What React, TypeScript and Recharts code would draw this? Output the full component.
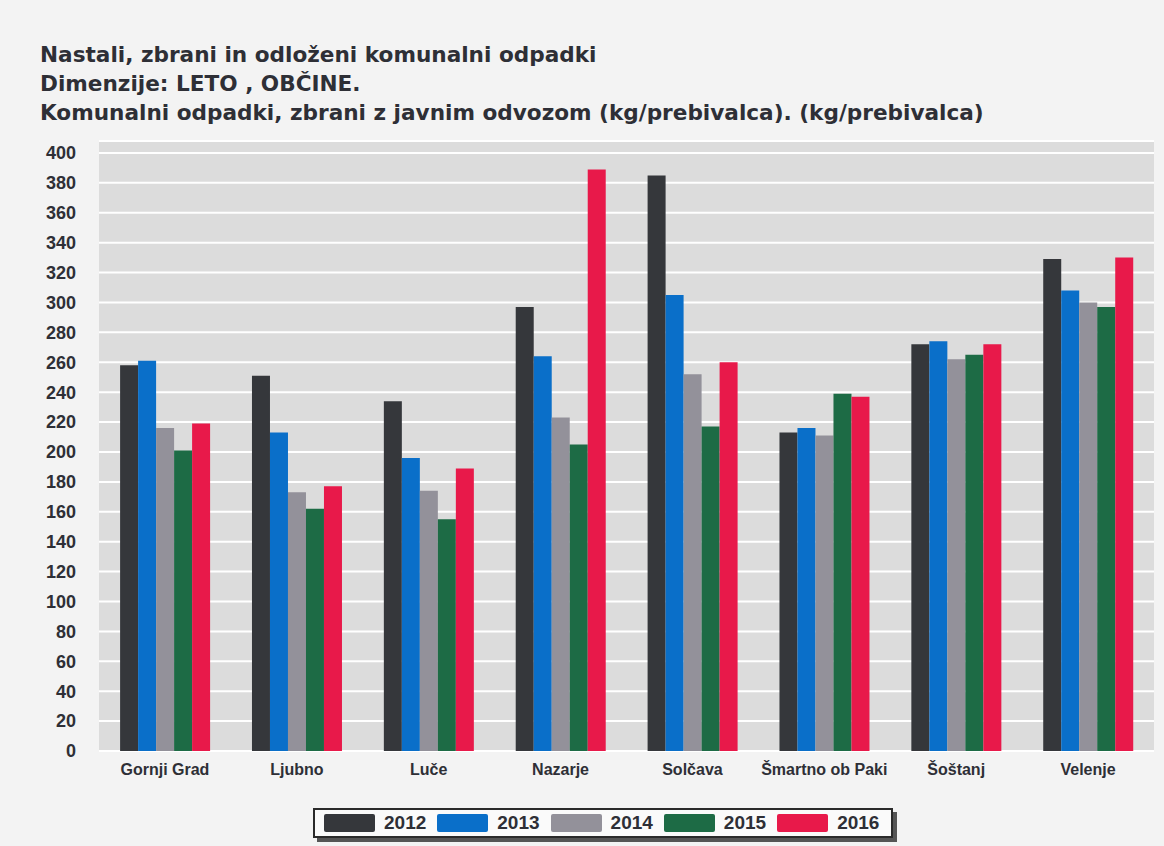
import { BarChart, Bar, XAxis, YAxis, CartesianGrid, Legend } from "recharts";

const municipalities = ["Gornji Grad", "Ljubno", "Luče", "Nazarje", "Solčava", "Šmartno ob Paki", "Šoštanj", "Velenje"];

const y2012 = [258, 251, 234, 297, 385, 213, 272, 329];
const y2013 = [261, 213, 196, 264, 305, 216, 274, 308];
const y2014 = [216, 173, 174, 223, 252, 211, 262, 300];
const y2015 = [201, 162, 155, 205, 217, 239, 265, 297];
const y2016 = [219, 177, 189, 389, 260, 237, 272, 330];

const yTicks = [0, 20, 40, 60, 80, 100, 120, 140, 160, 180, 200, 220, 240, 260, 280, 300, 320, 340, 360, 380, 400];

const years = ["2012", "2013", "2014", "2015", "2016"];
const colors = ["#35373b", "#0a6fc9", "#93919a", "#1d6b45", "#e8194a"];

const data = municipalities.map((name, i) => ({
  name,
  "2012": y2012[i],
  "2013": y2013[i],
  "2014": y2014[i],
  "2015": y2015[i],
  "2016": y2016[i],
}));

const textColor = "#2e2f36";
const font = "'Liberation Sans', Arial, sans-serif";

function YearLegend() {
  return (
    <div
      style={{
        width: 580,
        height: 30,
        border: "2px solid #2a2a2a",
        boxShadow: "4px 4px 0 #555",
        background: "#fafafa",
        display: "flex",
        alignItems: "center",
        boxSizing: "border-box",
        paddingLeft: 9,
        fontFamily: font,
      }}
    >
      {years.map((y, i) => (
        <div key={y} style={{ display: "flex", alignItems: "center", marginRight: i < 4 ? 11 : 0 }}>
          <div style={{ width: 51, height: 18, background: colors[i], borderRadius: 2 }} />
          <span style={{ marginLeft: 9, fontWeight: "bold", fontSize: 19, color: textColor }}>{y}</span>
        </div>
      ))}
    </div>
  );
}

export default function App() {
  return (
    <div style={{ position: "absolute", left: 0, top: 0, width: 1164, height: 846, background: "#f3f3f3", fontFamily: font }}>
      <div
        style={{
          position: "absolute",
          left: 40,
          top: 40,
          fontWeight: "bold",
          fontSize: 21.6,
          fontFamily: "'DejaVu Sans', Verdana, sans-serif",
          color: textColor,
          lineHeight: "29px",
        }}
      >
        <div>Nastali, zbrani in odloženi komunalni odpadki</div>
        <div>Dimenzije: LETO , OBČINE.</div>
        <div>Komunalni odpadki, zbrani z javnim odvozom (kg/prebivalca). (kg/prebivalca)</div>
      </div>
      <div style={{ position: "absolute", left: 0, top: 0 }}>
        <BarChart
          width={1164}
          height={846}
          data={data}
          margin={{ top: 141, right: 10, bottom: 65, left: 39 }}
          barCategoryGap="16%"
          barGap={0}
        >
          <CartesianGrid vertical={false} stroke="#ffffff" strokeWidth={2} fill="#dcdcdc" />
          <XAxis
            dataKey="name"
            height={30}
            axisLine={false}
            tickLine={false}
            tickSize={0}
            tickMargin={13}
            interval={0}
            tick={{ fill: textColor, fontSize: 16, fontWeight: "bold", fontFamily: font }}
          />
          <YAxis
            width={60}
            domain={[0, 408]}
            ticks={yTicks}
            axisLine={false}
            tickLine={false}
            tickSize={0}
            tickMargin={23}
            interval={0}
            tick={{ fill: textColor, fontSize: 18, fontWeight: "bold", fontFamily: font }}
          />
          <Legend
            layout="horizontal"
            verticalAlign="middle"
            align="center"
            wrapperStyle={{ position: "absolute", top: 808, left: 313, width: 590 }}
            content={() => <YearLegend />}
          />
          {years.map((y, i) => (
            <Bar key={y} dataKey={y} fill={colors[i]} isAnimationActive={false} />
          ))}
        </BarChart>
      </div>
    </div>
  );
}
